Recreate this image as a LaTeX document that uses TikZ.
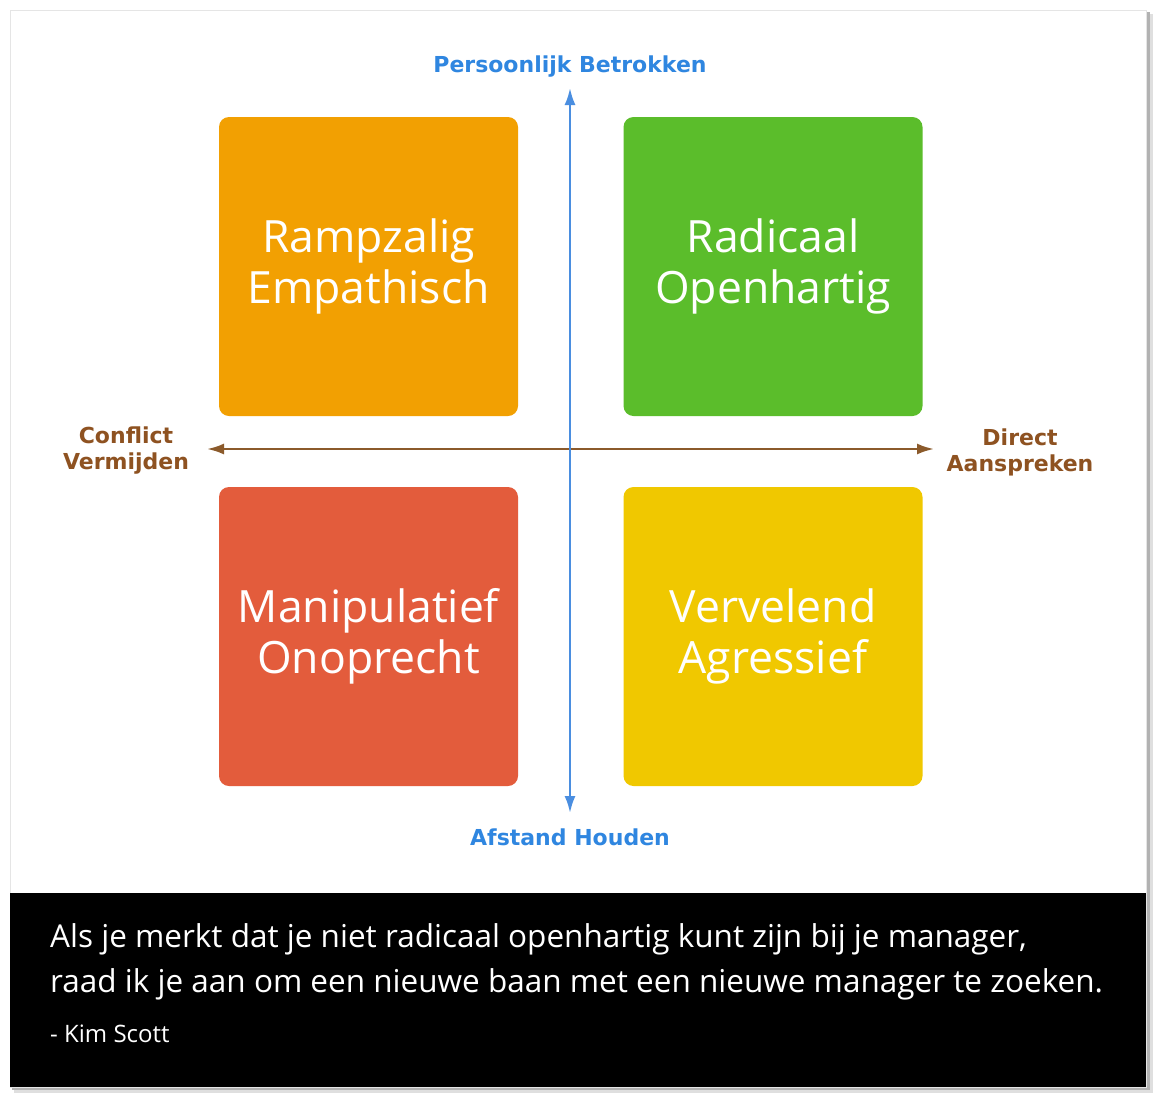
\documentclass[tikz,border=0pt]{standalone}
\usepackage{fontspec}
\setmainfont{DejaVu Sans}
\newfontfamily\vakfont{Open Sans}
\newfontfamily\citaatfont{Open Sans}
\usetikzlibrary{arrows.meta,positioning}

\definecolor{oranje}{HTML}{F2A002}
\definecolor{groen}{HTML}{5BBD2B}
\definecolor{rood}{HTML}{E35C3C}
\definecolor{geel}{HTML}{F0C800}
\definecolor{asblauw}{HTML}{4A8EE0}
\definecolor{tekstblauw}{HTML}{2F86E0}
\definecolor{asbruin}{HTML}{8B5A2B}
\definecolor{tekstbruin}{HTML}{8E5221}

\tikzset{
  kwadrant/.style={rounded corners=10pt, minimum width=299pt, minimum height=299pt,
    text=white, align=center, inner sep=0pt, font=\vakfont\fontsize{44.5}{51}\selectfont},
  aslabel/.style={align=center, inner sep=0pt, font=\bfseries\fontsize{22}{26}\selectfont},
  as/.style={line width=2.4pt, >={Latex[length=17pt,width=11pt]}}
}

\begin{document}
\begin{tikzpicture}[x=1pt, y=-1pt]
        \useasboundingbox (0,0) rectangle (1157,1098);
        % Kader met schaduw
        \fill[gray!25] (14,14) rectangle (1153,1093);
        \fill[gray!60] (12,12) rectangle (1150,1090);
        \draw[gray!20, fill=white] (10,10) rectangle (1146,1087);
        \fill[black] (10,893) rectangle (1146,1087);

        % Kwadranten
        \node[kwadrant, fill=oranje] (rampzalig) at (368.5,266.5) {Rampzalig\\Empathisch};
        \node[kwadrant, fill=groen] (radicaal) at (773,266.5) {Radicaal\\Openhartig};
        \node[kwadrant, fill=rood] (manipulatief) at (368.5,636.5) {Manipulatief\\Onoprecht};
        \node[kwadrant, fill=geel] (vervelend) at (773,636.5) {Vervelend\\Agressief};

        % Assen
        \coordinate (boven) at (570,88);
        \coordinate (onder) at (570,813);
        \coordinate (links) at (207,449);
        \coordinate (rechts) at (934,449);
        \draw[<->, as, asbruin] (links) -- (rechts);
        \draw[<->, as, asblauw] (boven) -- (onder);

        % Aslabels
        \node[aslabel, text=tekstblauw] (betrokken) at (570,67) {Persoonlijk Betrokken};
        \node[aslabel, text=tekstblauw] (afstand) at (570,837) {Afstand Houden};
        \node[aslabel, text=tekstbruin] (conflict) at (126,451) {Conflict\\Vermijden};
        \node[aslabel, text=tekstbruin] (direct) at (1020,452) {Direct\\Aanspreken};

        % Citaat
        \node[anchor=west, align=left, text=white, inner sep=0pt, font=\citaatfont\fontsize{31.5}{45}\selectfont]
          (citaat) at (50,962) {Als je merkt dat je niet radicaal openhartig kunt zijn bij je manager,\\raad ik je aan om een nieuwe baan met een nieuwe manager te zoeken.};
        \node[anchor=west, text=white, inner sep=0pt, font=\citaatfont\fontsize{24}{28}\selectfont]
          (auteur) at (50,1034) {- Kim Scott};
    \end{tikzpicture}
\end{document}
